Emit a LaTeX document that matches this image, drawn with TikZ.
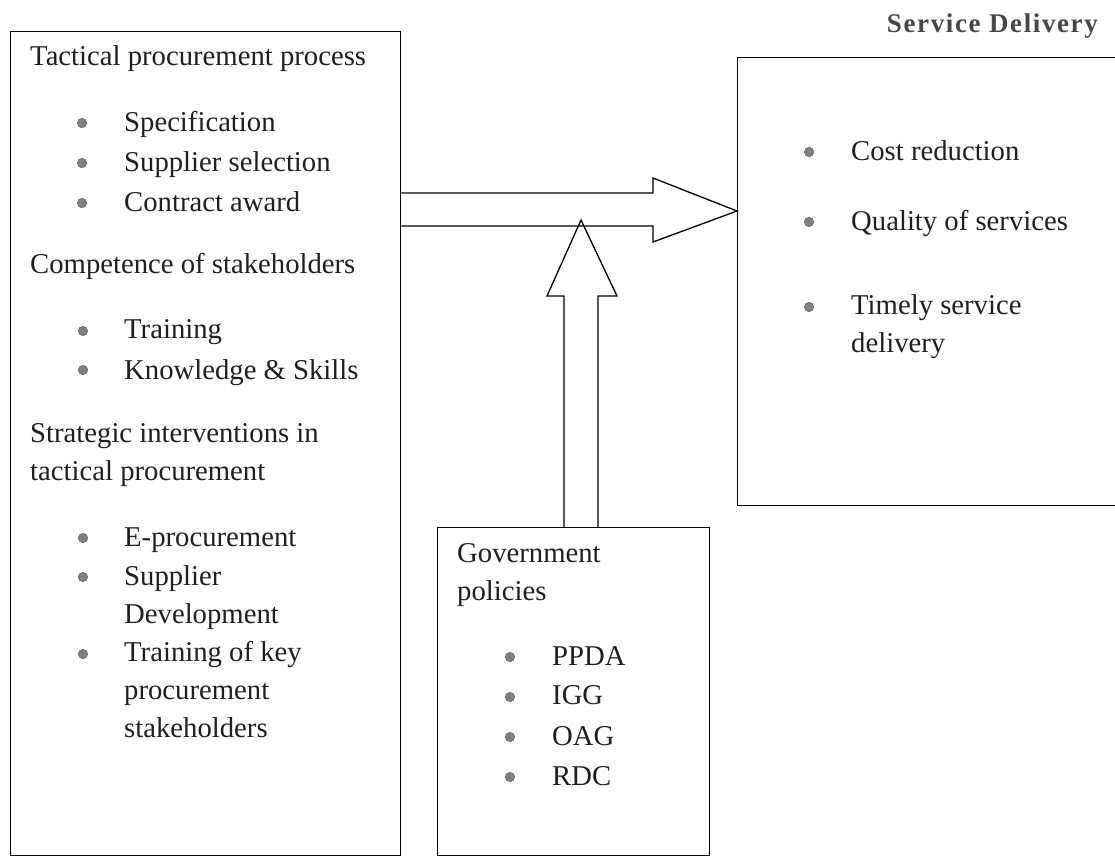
\documentclass[tikz,border=0pt]{standalone}
\usepackage{fontspec}
\setmainfont{Liberation Serif}
\usetikzlibrary{positioning}

\tikzset{
  box/.style={draw, line width=1.3pt, anchor=north west, inner sep=0pt},
  txt/.style={anchor=base west, inner sep=0pt, align=left, text=black!88,
    font=\fontsize{28.7}{37.7}\selectfont},
  bul/.style={circle, fill=black!50, draw=black!62, line width=0.5pt,
    inner sep=0pt, minimum size=9.5pt},
  blockarrow/.style={line width=1.3pt, line join=miter}
}

\begin{document}
\begin{tikzpicture}[x=1pt,y=-1pt]
  \useasboundingbox (0,0) rectangle (1115,857);

  % boxes
  \node[box, minimum width=390pt, minimum height=824pt] (tac) at (10,31) {};
  \node[box, minimum width=272pt, minimum height=328pt] (gov) at (437,527) {};
  \node[box, minimum width=390pt, minimum height=448pt] (sd) at (737,57) {};

  % left box (multi-line texts are placed by their last baseline)
  \node[txt] (tpp) at (30,65) {Tactical procurement process};
  \node[bul] (b1) at (82,123) {};
  \node[txt] (spec) at (124,131) {Specification};
  \node[bul] (b2) at (82,163) {};
  \node[txt] (ssel) at (124,171) {Supplier selection};
  \node[bul] (b3) at (82,203) {};
  \node[txt] (caw) at (124,211) {Contract award};

  \node[txt] (comp) at (30,273) {Competence of stakeholders};
  \node[bul] (b4) at (83,331) {};
  \node[txt] (trn) at (124,338) {Training};
  \node[bul] (b5) at (83,370) {};
  \node[txt] (kns) at (124,379) {Knowledge \& Skills};

  \node[txt] (strat) at (30,480) {Strategic interventions in\\tactical procurement};
  \node[bul] (b6) at (83,538) {};
  \node[txt] (eproc) at (124,546) {E-procurement};
  \node[bul] (b7) at (83,577) {};
  \node[txt] (sdev) at (124,623) {Supplier\\Development};
  \node[bul] (b8) at (83,654) {};
  \node[txt] (tkey) at (124,737) {Training of key\\procurement\\stakeholders};

  % government box
  \node[txt] (gp) at (457,600) {Government\\policies};
  \node[bul] (b9) at (510,657) {};
  \node[txt] (ppda) at (552,665) {PPDA};
  \node[bul] (b10) at (510,697) {};
  \node[txt] (igg) at (552,704) {IGG};
  \node[bul] (b11) at (510,737) {};
  \node[txt] (oag) at (552,745) {OAG};
  \node[bul] (b12) at (510,777) {};
  \node[txt] (rdc) at (552,785) {RDC};

  % service delivery box
  \node[anchor=base east, inner sep=0pt, text=black!72,
    font=\fontsize{27}{30}\selectfont\bfseries\addfontfeatures{LetterSpace=6}]
    (sdt) at (1098,32) {Service Delivery};
  \node[bul] (b13) at (809,152) {};
  \node[txt] (cost) at (851,160) {Cost reduction};
  \node[bul] (b14) at (809,222) {};
  \node[txt] (qual) at (851,230) {Quality of services};
  \node[bul] (b15) at (809,307) {};
  \node[txt] (timely) at (851,352) {Timely service\\delivery};

  % block arrows
  \draw[blockarrow] ([yshift=-162pt]tac.north east) -- (653,193) -- (653,178)
    -- ([yshift=-154pt]sd.north west) -- (653,242) -- (653,226)
    -- ([yshift=-195pt]tac.north east);
  \draw[blockarrow] ([xshift=127pt]gov.north west) -- (564,296) -- (547,296)
    -- (581,220) -- (617,296) -- (598,296) -- ([xshift=161pt]gov.north west);
\end{tikzpicture}
\end{document}
